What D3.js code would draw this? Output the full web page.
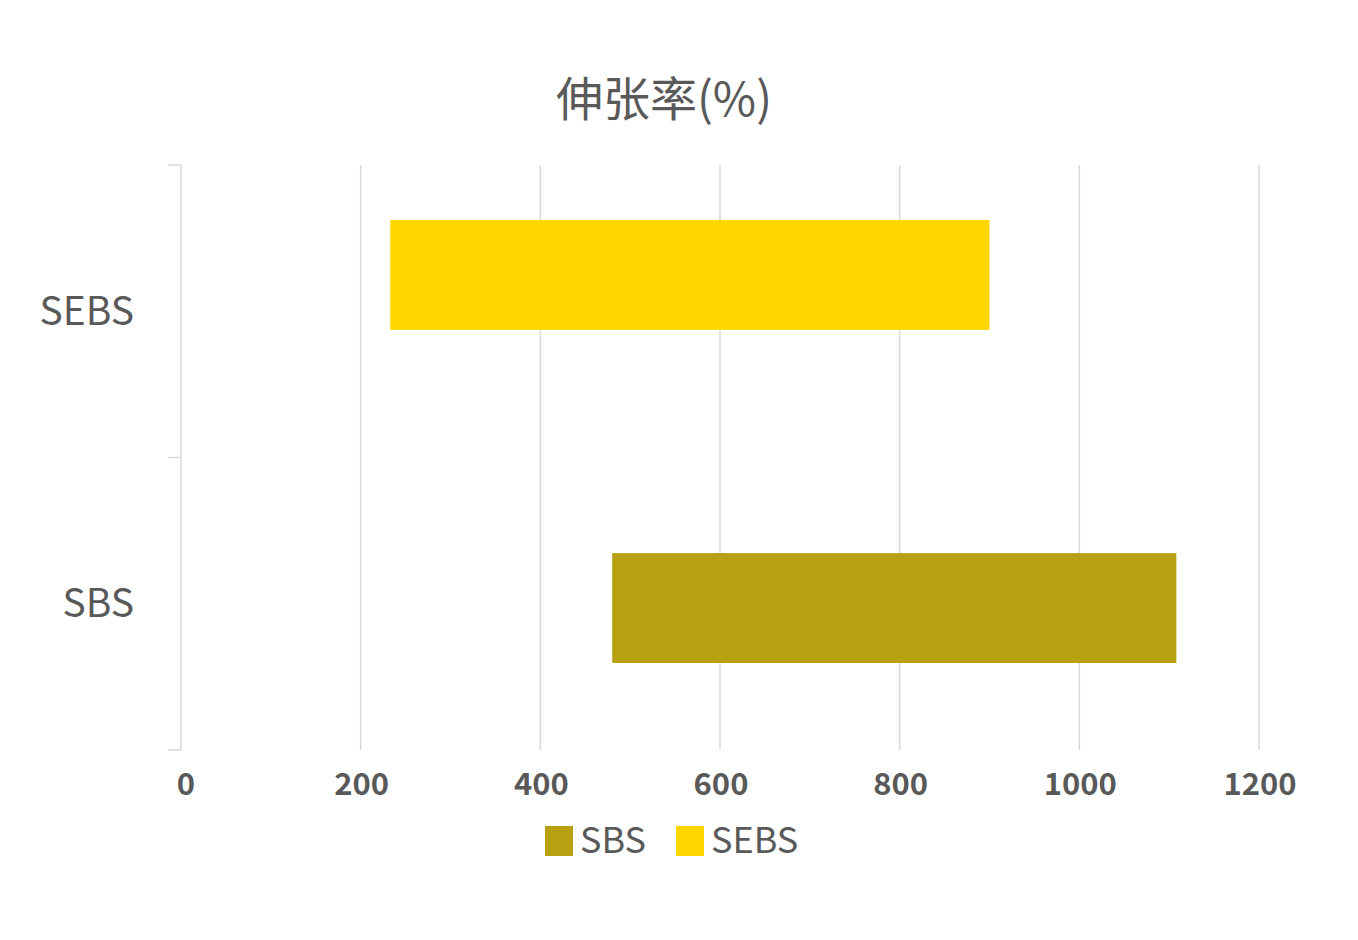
<!DOCTYPE html>
<html>
<head>
<meta charset="utf-8">
<script src="https://cdn.jsdelivr.net/npm/d3@7"></script>
<style>
  body { margin: 0; background: #fff; }
  text { font-family: "Noto Sans CJK SC", "Noto Sans", sans-serif; fill: #595959; }
</style>
</head>
<body>
<div id="chart"></div>
<script>
// categories top to bottom, with the floating range of each bar
const categories = ['SEBS', 'SBS'];
const startValues = [233, 480];
const endValues = [900, 1108];
const xTicks = [0, 200, 400, 600, 800, 1000, 1200];
const legendNames = ['SBS', 'SEBS'];
const colors = { SBS: '#b7a111', SEBS: '#ffd700' };
const title = '伸张率(%)';

const width = 1358;
const height = 940;
const margin = { top: 165, right: 99, bottom: 190, left: 181 };
const w = width - margin.left - margin.right;
const h = height - margin.top - margin.bottom;

const svg = d3.select('#chart').append('svg')
  .attr('width', width)
  .attr('height', height);

const g = svg.append('g')
  .attr('transform', 'translate(' + margin.left + ',' + margin.top + ')');

// x scale
const x = d3.scaleLinear()
  .domain([0, 1200])
  .range([0, w]);

// category bands (labels, ticks) and bar bands
const yCat = d3.scaleBand()
  .domain(categories)
  .range([0, h]);
const yBar = d3.scaleBand()
  .domain(categories)
  .range([0, h])
  .paddingInner(0.67)
  .paddingOuter(0.213)
  .align(0.387);

// vertical gridlines
g.append('g')
  .selectAll('line')
  .data(xTicks.slice(1))
  .join('line')
    .attr('x1', d => x(d))
    .attr('x2', d => x(d))
    .attr('y1', 0)
    .attr('y2', h)
    .attr('stroke', '#d9d9d9')
    .attr('stroke-width', 1.5);

// x tick labels
g.append('g')
  .selectAll('text')
  .data(xTicks)
  .join('text')
    .attr('x', d => x(d) + (d === 0 ? 5 : 1))
    .attr('y', h + 45)
    .attr('text-anchor', 'middle')
    .style('font-size', '31px')
    .style('font-weight', 'bold')
    .text(d => d);

// bars
g.append('g')
  .selectAll('rect')
  .data(categories)
  .join('rect')
    .attr('x', (d, i) => x(startValues[i]))
    .attr('y', d => yBar(d))
    .attr('width', (d, i) => x(endValues[i]) - x(startValues[i]))
    .attr('height', yBar.bandwidth())
    .attr('fill', d => colors[d]);

// left category axis
const yAxis = g.append('g');
yAxis.append('line')
  .attr('x1', 0).attr('x2', 0)
  .attr('y1', 0).attr('y2', h)
  .attr('stroke', '#d9d9d9')
  .attr('stroke-width', 1.5);
yAxis.selectAll('.tick')
  .data(categories.map(c => yCat(c)).concat([h]))
  .join('line')
    .attr('class', 'tick')
    .attr('x1', -13).attr('x2', 0)
    .attr('y1', d => d).attr('y2', d => d)
    .attr('stroke', '#d9d9d9')
    .attr('stroke-width', 1.5);
yAxis.selectAll('text')
  .data(categories)
  .join('text')
    .attr('x', -47)
    .attr('y', d => yCat(d) + yCat.bandwidth() / 2)
    .attr('dy', '0.35em')
    .attr('text-anchor', 'end')
    .style('font-size', '39px')
    .text(d => d);

// title
svg.append('text')
  .attr('x', 664)
  .attr('y', 116)
  .attr('text-anchor', 'middle')
  .style('font-size', '47px')
  .text(title);

// legend
const legend = svg.append('g')
  .attr('transform', 'translate(545,826)');
const offsets = [0, 131];
legendNames.forEach((name, i) => {
  legend.append('rect')
    .attr('x', offsets[i])
    .attr('y', 0)
    .attr('width', 28)
    .attr('height', 30)
    .attr('fill', colors[name]);
  legend.append('text')
    .attr('x', offsets[i] + 35)
    .attr('y', 27)
    .style('font-size', '36px')
    .text(name);
});
</script>
</body>
</html>
